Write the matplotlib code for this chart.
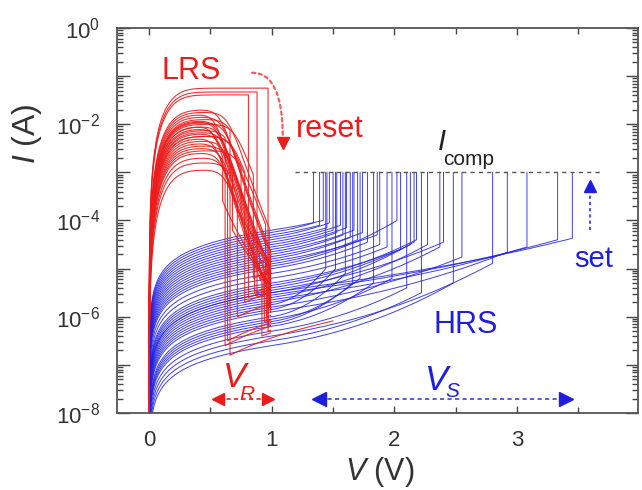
import numpy as np
import matplotlib
matplotlib.use("Agg")
import matplotlib.pyplot as plt
from matplotlib.ticker import LogLocator, MultipleLocator, FuncFormatter, NullFormatter

plt.rcParams['font.family'] = ['Liberation Sans', 'DejaVu Sans']
plt.rcParams['mathtext.fontset'] = 'custom'
plt.rcParams['mathtext.rm'] = 'Liberation Sans'
plt.rcParams['mathtext.it'] = 'Liberation Sans:italic'

RED = '#ec1c1c'
BLUE = '#1e1ee0'
I_COMP = 1e-3

# set sweeps (HRS -> LRS), read per cycle off the picture
set_v = [1.34, 1.39, 1.42, 1.45, 1.47, 1.50, 1.53, 1.56, 1.58, 1.61, 1.64, 1.67, 1.70, 1.74,
         1.78, 1.86, 1.88, 1.94, 2.02, 2.05, 2.13, 2.16, 2.18, 2.27, 2.37, 2.40, 2.55, 2.80,
         2.92, 3.08, 3.33, 3.45, 1.52, 1.60, 1.72, 1.83, 1.98, 2.10, 2.22, 2.48, 1.44, 1.66]
hrs_log_i1 = [-4.25, -4.30, -4.20, -4.40, -4.35, -4.50, -4.60, -4.45, -4.70, -4.55, -4.80,
              -4.65, -4.90, -4.75, -5.00, -4.85, -5.10, -5.20, -4.95, -5.30, -5.40, -5.50,
              -5.35, -5.60, -5.70, -5.45, -5.80, -6.40, -5.90, -5.65, -5.55, -5.50, -5.85,
              -6.00, -6.10, -6.20, -6.05, -6.30, -6.50, -6.60, -5.75, -6.15]
hrs_log_iset = [-4.05, -4.10, -4.00, -4.15, -4.05, -4.20, -4.25, -4.10, -4.30, -4.15, -4.35,
                -4.20, -4.40, -4.25, -4.45, -4.30, -4.50, -4.55, -4.00, -4.60, -4.50, -4.45,
                -4.40, -4.50, -4.55, -4.45, -4.76, -4.89, -4.66, -4.55, -4.40, -4.37, -5.00,
                -5.10, -5.20, -5.30, -5.20, -5.40, -5.50, -5.30, -5.00, -5.30]

# reset sweeps (LRS -> HRS)
lrs_log_peak = [-1.25, -1.33, -1.39, -1.70, -1.75, -1.80, -1.85, -1.90, -1.93, -1.97, -2.00,
                -2.05, -2.10, -2.13, -2.17, -2.20, -2.25, -2.30, -2.35, -2.40, -2.45, -2.50,
                -2.55, -2.60, -2.70, -2.80, -2.95, -2.05, -1.95, -2.25]
lrs_v_roll = [5.0, 5.0, 5.0, 0.60, 0.66, 0.56, 0.62, 0.68, 0.58, 0.64, 0.72, 0.60, 0.57,
              0.66, 0.62, 0.59, 0.70, 0.56, 0.63, 0.58, 0.65, 0.61, 0.74, 0.60, 0.62, 0.67,
              0.64, 0.55, 0.57, 0.69]
lrs_v_drop = [0.97, 0.88, 0.81, 0.95, 0.98, 0.90, 0.97, 0.66, 0.93, 0.99, 0.85, 0.96, 0.88,
              0.62, 0.98, 0.94, 0.78, 0.91, 0.97, 0.86, 0.99, 0.72, 0.95, 0.92, 0.98, 0.64,
              0.96, 0.60, 0.68, 0.75]
lrs_log_floor = [-5.2, -4.9, -5.6, -5.3, -5.8, -5.0, -6.2, -6.8, -5.5, -5.9, -5.2, -6.0, -5.6,
                 -6.6, -5.4, -6.1, -5.7, -5.1, -6.3, -5.5, -5.9, -6.0, -5.3, -6.4, -5.8, -6.5,
                 -6.1, -3.6, -4.2, -3.9]
lrs_tail_pow = [2, 2, 2, 2, 2, 2, 2, 2, 2, 2, 2, 2, 2, 2, 2, 2, 2, 2, 2, 2, 2, 2, 2, 2, 2, 2,
                2, -8, -7, -8]
lrs_v_stop = [0.99, 0.99, 0.99, 0.99, 0.99, 0.99, 0.99, 1.50, 0.99, 0.99, 0.99, 0.99, 0.99,
              0.99, 0.99, 0.99, 0.99, 0.99, 0.99, 0.99, 0.99, 0.99, 0.99, 0.99, 0.99, 0.99,
              0.99, 0.99, 0.99, 0.99]


def hrs_curve(vset, li1, liset, n=0.9):
    v = np.concatenate([np.logspace(-4, -1, 40), np.linspace(0.1, vset, 160)[1:]])
    b = (liset - li1 - n * np.log10(vset)) / (vset - 1) ** 2
    logi = li1 + n * np.log10(v) + np.where(v > 1, b * (v - 1) ** 2, 0)
    return np.append(v, vset), np.append(10 ** logi, I_COMP)


def lrs_curve(lpk, vr, vdrop, lfl, tp, vstop, v0=0.2, m=14):
    v = np.concatenate([np.logspace(-5, -1.3, 40), np.linspace(0.05, vdrop, 160)])
    i = 10 ** lpk * (1 - np.exp(-(v / v0) ** 2)) / (1 + (v / vr) ** m)
    v2 = np.linspace(vdrop, vstop, 30)
    i2 = 10 ** lfl * (v2 / vdrop) ** tp
    return np.concatenate([v, v2]), np.concatenate([i, i2])


fig = plt.figure(figsize=(6.42, 4.9), dpi=100)
ax = fig.add_axes([117 / 642, 1 - 413 / 490, 521 / 642, 385 / 490])

for k in range(len(set_v)):
    v, i = hrs_curve(set_v[k], hrs_log_i1[k], hrs_log_iset[k])
    ax.plot(v, i, color=BLUE, lw=0.7, alpha=0.85)

for k in range(len(lrs_log_peak)):
    v, i = lrs_curve(lrs_log_peak[k], lrs_v_roll[k], lrs_v_drop[k], lrs_log_floor[k],
                     lrs_tail_pow[k], lrs_v_stop[k])
    ax.plot(v, i, color=RED, lw=0.8, alpha=0.9)

ax.set_yscale('log')
ax.set_xlim(-0.261, 3.985)
ax.set_ylim(1e-8, 1)

ax.xaxis.set_major_locator(MultipleLocator(1))
ax.xaxis.set_minor_locator(MultipleLocator(0.5))
ax.yaxis.set_major_locator(LogLocator(base=10, numticks=20))
ax.yaxis.set_minor_locator(LogLocator(base=10, subs=np.arange(2, 10), numticks=20))
ax.yaxis.set_minor_formatter(NullFormatter())


def fmt(y, pos):
    e = int(round(np.log10(y)))
    return r'$\mathregular{10^{%d}}$' % e if e % 2 == 0 else ''


ax.yaxis.set_major_formatter(FuncFormatter(fmt))
ax.tick_params(which='both', direction='in', top=True, right=True, labelsize=16,
               color='#444444', labelcolor='#333333', width=1)
ax.tick_params(axis='y', which='major', length=9, pad=12)
ax.tick_params(axis='y', which='minor', length=4.5)
ax.tick_params(axis='x', which='major', length=5, pad=12)
ax.tick_params(axis='x', which='minor', length=4)
for s in ax.spines.values():
    s.set_color('#555555')
    s.set_linewidth(1.3)

fig.text(27 / 642, 1 - 134 / 490, r'$\mathit{I}$ (A)', rotation=90, fontsize=23,
         ha='center', va='center', color='#333333')
fig.text(380 / 642, 1 - 472 / 490, r'$\mathit{V}$ (V)', fontsize=22,
         ha='center', va='center', color='#333333')

# compliance line
ax.plot([1.19, 3.675], [I_COMP, I_COMP], color='#555555', lw=1, ls=(0, (3, 3)))
ax.text(2.388, 10 ** -2.535, 'I', fontsize=21, style='italic', ha='center', va='baseline', color='#222222')
ax.text(2.40, 10 ** -2.85, 'comp', fontsize=15, ha='left', va='baseline', color='#222222')

# labels
ax.text(0.342, 10 ** -1.07, 'LRS', fontsize=22, color=RED, ha='center', va='baseline')
ax.text(1.475, 10 ** -2.26, 'reset', fontsize=22, color=RED, ha='center', va='baseline')
ax.text(2.58, 10 ** -6.34, 'HRS', fontsize=22, color=BLUE, ha='center', va='baseline')
ax.text(3.62, 10 ** -4.97, 'set', fontsize=21, color=BLUE, ha='center', va='baseline')

# reset arrow
ax.annotate('', xy=(1.09, 10 ** -2.26), xytext=(0.84, 10 ** -0.93),
            arrowprops=dict(arrowstyle='-', linestyle=(0, (1.5, 1.5)), color='#f06060', lw=1.6,
                            connectionstyle='angle3,angleA=0,angleB=90', shrinkA=0, shrinkB=0))
ax.plot([1.09], [10 ** -2.38], marker='v', color=RED, ms=8, ls='none')

# set arrow
ax.plot([3.594, 3.594], [10 ** -4.197, 10 ** -3.43], color='#5050e0', lw=1.5, ls=(0, (1.5, 1.5)))
ax.plot([3.594], [10 ** -3.29], marker='^', color=BLUE, ms=8, ls='none')

# V_R window
yr = 10 ** -7.71
ax.plot([0.57, 0.96], [yr, yr], color=RED, lw=1.2, ls=(0, (2.5, 2)))
ax.plot([0.566], [yr], marker='<', color=RED, ms=9, ls='none')
ax.plot([0.966], [yr], marker='>', color=RED, ms=9, ls='none')
ax.text(0.70, 10 ** -7.46, 'V', fontsize=25, style='italic', color=RED, ha='center', va='baseline')
ax.text(0.80, 10 ** -7.73, 'R', fontsize=15, style='italic', color=RED, ha='center', va='baseline')

# V_S window
ax.plot([1.39, 3.40], [yr, yr], color='#4040e0', lw=1.2, ls=(0, (2.5, 2)))
ax.plot([1.386], [yr], marker='<', color=BLUE, ms=10, ls='none')
ax.plot([3.398], [yr], marker='>', color=BLUE, ms=10, ls='none')
ax.text(2.347, 10 ** -7.52, 'V', fontsize=25, style='italic', color=BLUE, ha='center', va='baseline')
ax.text(2.47, 10 ** -7.67, 'S', fontsize=15, style='italic', color=BLUE, ha='center', va='baseline')

fig.savefig('out.png', dpi=100)
